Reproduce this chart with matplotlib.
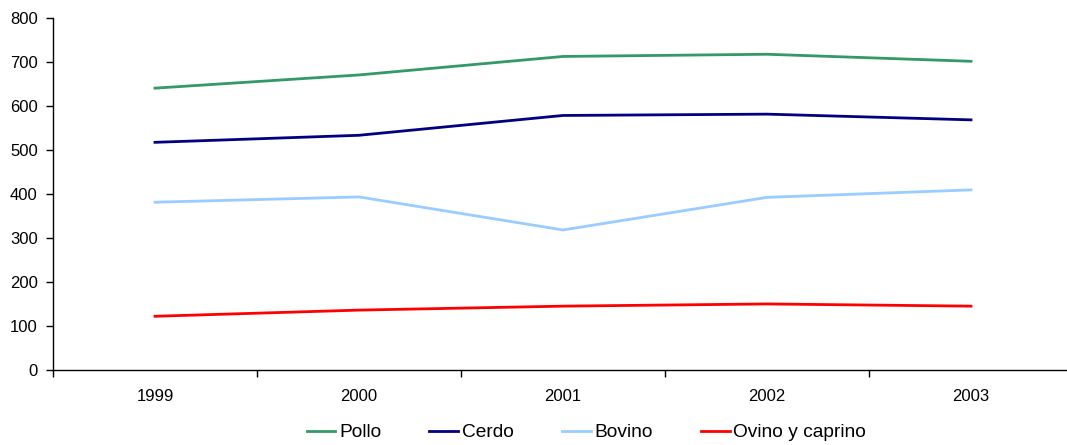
import matplotlib
matplotlib.use("Agg")
import matplotlib.pyplot as plt

# Data
years = ["1999", "2000", "2001", "2002", "2003"]
pollo = [640, 670, 712, 717, 701]
cerdo = [517, 533, 578, 581, 568]
bovino = [381, 393, 318, 392, 409]
ovino = [122, 136, 145, 150, 145]

series = [
    ("Pollo", pollo, "#339966"),
    ("Cerdo", cerdo, "#000080"),
    ("Bovino", bovino, "#99ccff"),
    ("Ovino y caprino", ovino, "#ff0000"),
]

plt.rcParams['font.family'] = ['Liberation Sans', 'DejaVu Sans']

fig = plt.figure(figsize=(10.67, 4.45), dpi=100)
ax = fig.add_axes([53 / 1067, 75 / 445, 1020 / 1067, (370 - 17.7) / 445])

x = list(range(len(years)))
for name, vals, color in series:
    ax.plot(x, vals, color=color, linewidth=2.0, label=name)

ax.set_xlim(-0.5, len(years) - 0.5)
ax.set_ylim(0, 800)
ax.set_yticks(range(0, 801, 100))

# category boundaries as ticks, labels in the middle
ax.set_xticks([i - 0.5 for i in range(len(years) + 1)])
ax.set_xticklabels([])
ax.set_xticks(x, minor=True)
ax.set_xticklabels(years, minor=True)
ax.tick_params(axis="x", which="minor", length=0, pad=14, labelsize=12)
ax.tick_params(axis="x", which="major", length=5, width=1)
ax.tick_params(axis="y", length=5, width=1, labelsize=12, pad=6)

for s in ["top", "right"]:
    ax.spines[s].set_visible(False)
for s in ["left", "bottom"]:
    ax.spines[s].set_linewidth(1)

fig.legend(loc="center", bbox_to_anchor=(0.5497, 0.028), ncol=4, frameon=False,
           fontsize=13.8, handlelength=1.5, handletextpad=0.2, columnspacing=2.5)

fig.savefig("out.png", dpi=100)
